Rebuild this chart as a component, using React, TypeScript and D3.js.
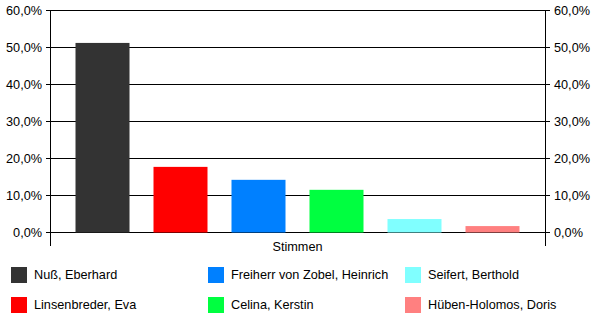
import { useEffect, useRef } from "react";
import * as d3 from "d3";

const category = "Stimmen";
const candidates = [
  "Nuß, Eberhard",
  "Linsenbreder, Eva",
  "Freiherr von Zobel, Heinrich",
  "Celina, Kerstin",
  "Seifert, Berthold",
  "Hüben-Holomos, Doris",
];
const shares = [51.1, 17.6, 14.1, 11.4, 3.5, 1.6];
const colors = ["#333333", "#ff0000", "#0080ff", "#00ff40", "#80ffff", "#ff8080"];
const yTicks = [0, 10, 20, 30, 40, 50, 60];

function App() {
  const svgRef = useRef<SVGSVGElement>(null);

  useEffect(() => {
    const width = 600;
    const height = 326;
    const margin = { top: 10, right: 55, bottom: 94, left: 50 };
    const font = "Arial, 'Liberation Sans', sans-serif";
    const fontSize = "12.7px";

    const svg = d3.select(svgRef.current).attr("width", width).attr("height", height);
    svg.selectAll("*").remove();

    const x0 = margin.left;
    const x1 = width - margin.right;
    const yBottom = height - margin.bottom;

    const yScale = d3.scaleLinear().domain([0, 60]).range([yBottom, margin.top]);

    const xScale = d3
      .scaleBand()
      .domain(candidates)
      .range([x0, x1])
      .paddingInner(0.3077)
      .paddingOuter(0.327);

    // gridlines
    svg
      .selectAll(".grid")
      .data(yTicks)
      .enter()
      .append("line")
      .attr("x1", x0)
      .attr("x2", x1)
      .attr("y1", (d) => yScale(d) + 0.5)
      .attr("y2", (d) => yScale(d) + 0.5)
      .attr("stroke", "black")
      .attr("stroke-width", 1);

    // bars
    svg
      .selectAll(".bar")
      .data(candidates)
      .enter()
      .append("rect")
      .attr("x", (d) => xScale(d)!)
      .attr("y", (_, i) => yScale(shares[i]))
      .attr("width", xScale.bandwidth())
      .attr("height", (_, i) => yBottom - yScale(shares[i]) + 0.5)
      .attr("fill", (_, i) => colors[i]);

    const fmt = (d: number) => d.toFixed(1).replace(".", ",") + "%";

    // left and right axis
    [x0, x1].forEach((x) => {
      svg
        .append("line")
        .attr("x1", x + 0.5)
        .attr("x2", x + 0.5)
        .attr("y1", margin.top)
        .attr("y2", yBottom + 14)
        .attr("stroke", "black");
    });

    yTicks.forEach((t) => {
      const y = yScale(t) + 0.5;
      svg.append("line").attr("x1", x0 - 4).attr("x2", x0).attr("y1", y).attr("y2", y).attr("stroke", "black");
      svg.append("line").attr("x1", x1).attr("x2", x1 + 5).attr("y1", y).attr("y2", y).attr("stroke", "black");
      svg
        .append("text")
        .attr("x", x0 - 8)
        .attr("y", y)
        .attr("dy", "0.35em")
        .attr("text-anchor", "end")
        .style("font-family", font)
        .style("font-size", fontSize)
        .text(fmt(t));
      svg
        .append("text")
        .attr("x", x1 + 9)
        .attr("y", y)
        .attr("dy", "0.35em")
        .attr("text-anchor", "start")
        .style("font-family", font)
        .style("font-size", fontSize)
        .text(fmt(t));
    });

    svg
      .append("text")
      .attr("x", (x0 + x1) / 2)
      .attr("y", yBottom + 19)
      .attr("text-anchor", "middle")
      .style("font-family", font)
      .style("font-size", fontSize)
      .text(category);

    // legend
    const colX = [11, 208, 405];
    const rowY = [267, 297];
    candidates.forEach((c, i) => {
      const col = Math.floor(i / 2);
      const row = i % 2;
      svg
        .append("rect")
        .attr("x", colX[col])
        .attr("y", rowY[row])
        .attr("width", 16)
        .attr("height", 16)
        .attr("fill", colors[i]);
      svg
        .append("text")
        .attr("x", colX[col] + 23)
        .attr("y", rowY[row] + 8)
        .attr("dy", "0.35em")
        .style("font-family", font)
        .style("font-size", fontSize)
        .text(c);
    });
  }, []);

  return (
    <div style={{ position: "absolute", left: 0, top: 0 }}>
      <svg ref={svgRef}></svg>
    </div>
  );
}

export default App;
